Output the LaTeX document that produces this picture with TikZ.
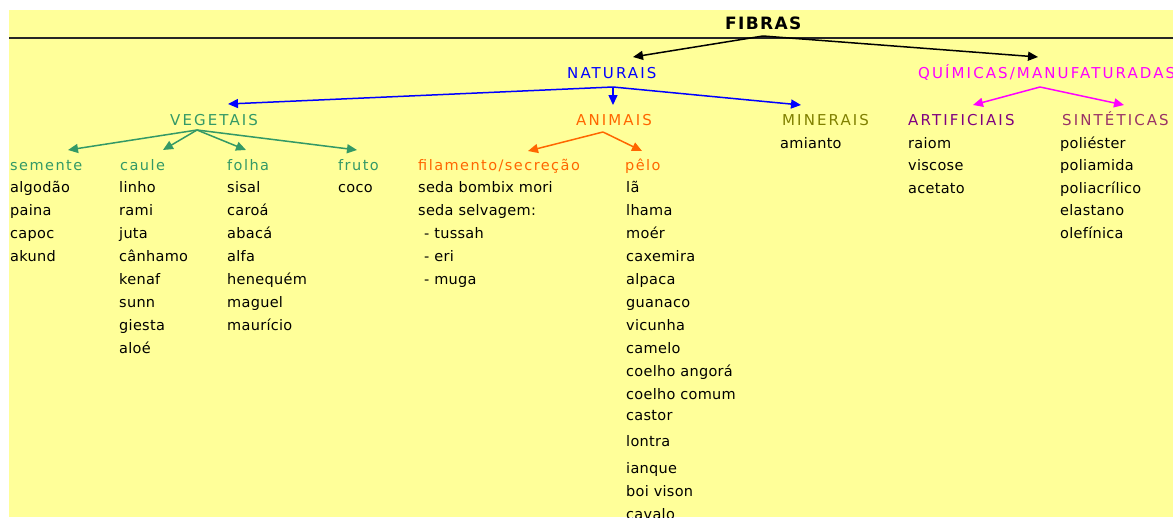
\documentclass[tikz,border=0pt]{standalone}
\usepackage{fontspec}
\setmainfont{DejaVu Sans}
\newfontfamily\itemfont{DejaVu Sans}[LetterSpace=2]
\newfontfamily\headfont{DejaVu Sans}[LetterSpace=14]
\newfontfamily\subfont{DejaVu Sans}[LetterSpace=10]
\newfontfamily\titlefont{DejaVu Sans}[LetterSpace=8]
\usetikzlibrary{arrows.meta}

\definecolor{bgyellow}{HTML}{FFFF99}
\definecolor{vegcol}{HTML}{339966}
\definecolor{natcol}{HTML}{0000FF}
\definecolor{anicol}{HTML}{FF6600}
\definecolor{mincol}{HTML}{808000}
\definecolor{quicol}{HTML}{FF00FF}
\definecolor{artcol}{HTML}{800080}
\definecolor{sincol}{HTML}{993366}

\tikzset{
  item/.style={anchor=base west, inner sep=0pt, font=\itemfont\fontsize{14.5}{17}\selectfont},
  head/.style={anchor=base west, inner sep=0pt, font=\headfont\fontsize{15}{18}\selectfont},
  sub/.style={anchor=base west, inner sep=0pt, font=\subfont\fontsize{14.5}{17}\selectfont},
  link/.style={-{Triangle[length=10pt,width=9pt]}, line width=1.5pt},
}

\begin{document}
\begin{tikzpicture}[x=1pt,y=-1pt]
  \path[use as bounding box] (0,0) rectangle (1173,517);
  \clip (0,0) rectangle (1173,517);
  \fill[bgyellow] (9,10) rectangle (1173,517);
  \draw[line width=1.6pt, black!85] (9,38) -- (1173,38);

  % title and main branches
  \node[anchor=base west, inner sep=0pt, font=\titlefont\bfseries\fontsize{17}{20}\selectfont] (fib) at (725,29) {FIBRAS};
  \node[head, text=natcol] (nat) at (567,78) {NATURAIS};
  \node[head, text=quicol] (qui) at (918,78) {QUÍMICAS/MANUFATURADAS};

  \coordinate (fibApex) at (763,36);
  \coordinate (natTip) at (633,57);
  \coordinate (quiTip) at (1038,57);
  \draw[link, black] (fibApex) -- (natTip);
  \draw[link, black] (fibApex) -- (quiTip);

  % natural fibres
  \node[head, text=vegcol] (veg) at (170,125) {VEGETAIS};
  \node[head, text=anicol] (ani) at (576,125) {ANIMAIS};
  \node[head, text=mincol] (min) at (782,125) {MINERAIS};

  \coordinate (natApex) at (613,87);
  \coordinate (vegTip) at (228,104);
  \coordinate (aniTip) at (613,105);
  \coordinate (minTip) at (801,105);
  \draw[link, natcol] (natApex) -- (vegTip);
  \draw[link, natcol] (natApex) -- (aniTip);
  \draw[link, natcol] (natApex) -- (minTip);

  % manufactured fibres
  \node[head, text=artcol] (art) at (908,125) {ARTIFICIAIS};
  \node[head, text=sincol] (sin) at (1062,125) {SINTÉTICAS};

  \coordinate (quiApex) at (1040,87);
  \coordinate (artTip) at (973,105);
  \coordinate (sinTip) at (1124,105);
  \draw[link, quicol] (quiApex) -- (artTip);
  \draw[link, quicol] (quiApex) -- (sinTip);

  % vegetable sub-groups
  \node[sub, text=vegcol] (sem) at (10,170) {semente};
  \node[sub, text=vegcol] (cau) at (120,170) {caule};
  \node[sub, text=vegcol] (fol) at (227,170) {folha};
  \node[sub, text=vegcol] (fru) at (338,170) {fruto};

  \coordinate (vegApex) at (197,130);
  \coordinate (semTip) at (68,150);
  \coordinate (cauTip) at (163,150);
  \coordinate (folTip) at (246,150);
  \coordinate (fruTip) at (357,150);
  \foreach \t in {semTip,cauTip,folTip,fruTip}
    \draw[link, vegcol] (vegApex) -- (\t);

  % animal sub-groups
  \node[sub, text=anicol] (fil) at (418,170) {filamento/secreção};
  \node[sub, text=anicol] (pel) at (625,170) {pêlo};

  \coordinate (aniApex) at (603,132);
  \coordinate (filTip) at (528,151);
  \coordinate (pelTip) at (642,151);
  \draw[link, anicol] (aniApex) -- (filTip);
  \draw[link, anicol] (aniApex) -- (pelTip);

  % lists of fibres
  \foreach \t [count=\i from 0] in {algodão,paina,capoc,akund}
    \node[item] (semItem\i) at (10,{192+23*\i}) {\t};
  \foreach \t [count=\i from 0] in {linho,rami,juta,cânhamo,kenaf,sunn,giesta,aloé}
    \node[item] (cauItem\i) at (119,{192+23*\i}) {\t};
  \foreach \t [count=\i from 0] in {sisal,caroá,abacá,alfa,henequém,maguel,maurício}
    \node[item] (folItem\i) at (227,{192+23*\i}) {\t};
  \node[item] (fruItem0) at (338,192) {coco};

  \node[item] (filItem0) at (418,192) {seda bombix mori};
  \node[item] (filItem1) at (418,215) {seda selvagem:};
  \node[item] (filItem2) at (424,238) {- tussah};
  \node[item] (filItem3) at (424,261) {- eri};
  \node[item] (filItem4) at (424,284) {- muga};

  \foreach \t/\y [count=\i] in {lã/192,lhama/215,moér/238,caxemira/261,alpaca/284,guanaco/307,vicunha/330,camelo/353,coelho angorá/376,coelho comum/399,castor/420,lontra/446,ianque/473,boi vison/496,cavalo/519}
    \node[item] (pelItem\i) at (626,\y) {\t};

  \node[item] (minItem0) at (780,148) {amianto};

  \foreach \t [count=\i from 0] in {raiom,viscose,acetato}
    \node[item] (artItem\i) at (908,{148+22.5*\i}) {\t};
  \foreach \t [count=\i from 0] in {poliéster,poliamida,poliacrílico,elastano,olefínica}
    \node[item] (sinItem\i) at (1060,{148+22.5*\i}) {\t};
\end{tikzpicture}
\end{document}
